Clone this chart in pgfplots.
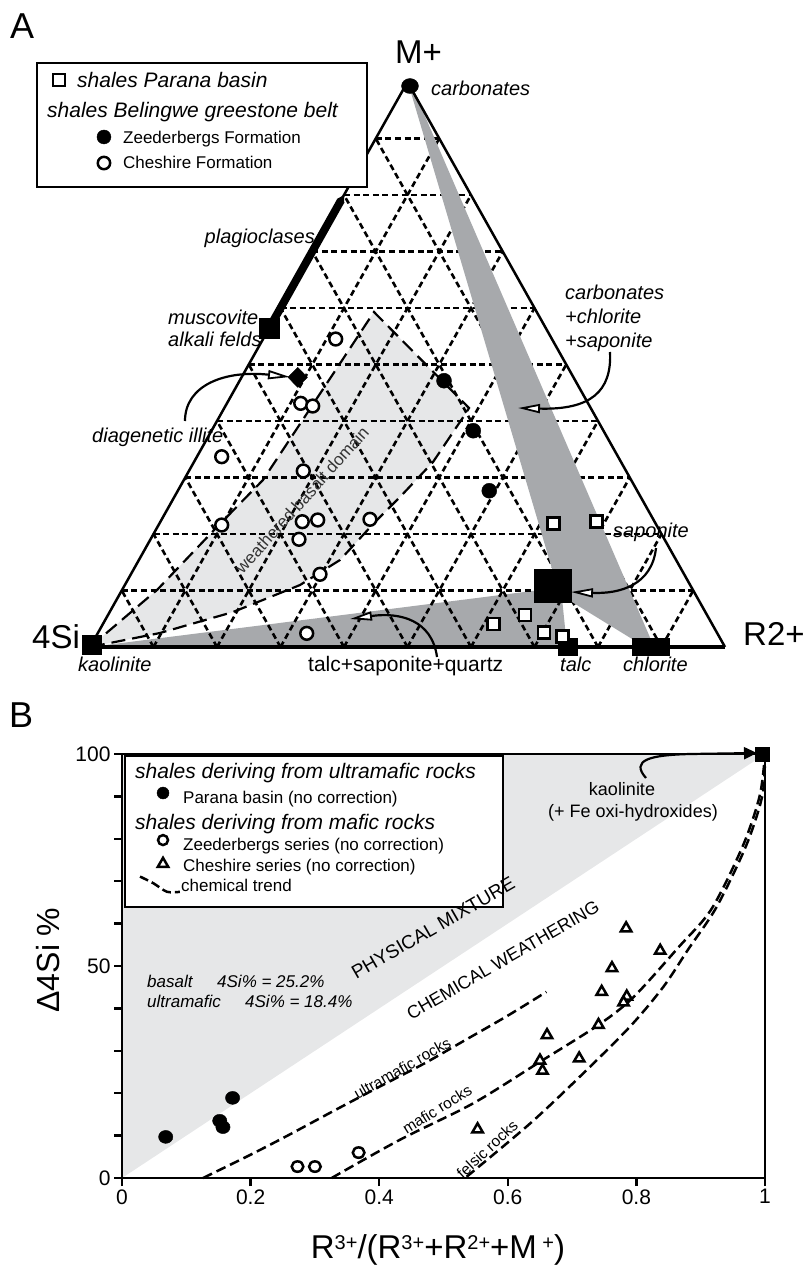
\documentclass[border=0pt]{standalone}
\usepackage{fontspec}
\setmainfont{Liberation Sans}
\usepackage{pgfplots}
\pgfplotsset{compat=1.18}
\usetikzlibrary{arrows.meta}
\definecolor{lgray}{HTML}{E6E7E8}
\definecolor{dgray}{HTML}{A7A9AC}
\newcommand\fs[1]{\fontsize{#1}{#1}\selectfont}
\newcommand\sups[1]{\raisebox{9pt}{\fs{20}#1}}
\tikzset{
  tgrid/.style={line width=2.6pt, dash pattern=on 6pt off 3.6pt, black},
  openarrow/.style={line width=2.2pt, -{Triangle[fill=white, length=22pt, width=9pt, line width=1.8pt]}},
  trend/.style={line width=2.5pt, dash pattern=on 10pt off 5pt, black, smooth},
}
\begin{document}
\begin{tikzpicture}
\path[use as bounding box] (0pt,0pt) rectangle (805pt,-1266pt);

%================ PANEL A (ternary, X = R2+ + M+/2, Y = M+) ================
\begin{axis}[at={(90pt,-647pt)}, anchor=south west, scale only axis,
  width=635pt, height=565pt, xmin=0, xmax=1, ymin=0, ymax=1,
  hide axis, clip=false]
% weathered basalt domain
\addplot[fill=lgray, draw=none] coordinates {(0,0) (0.1055,0.1009) (0.2000,0.2124) (0.2724,0.2956) (0.4472,0.5929) (0.5969,0.4230) (0.5921,0.4142) (0.5402,0.3274) (0.4882,0.2655) (0.4488,0.2212) (0.3937,0.1540) (0.3307,0.1097) (0.2252,0.0619) (0.1102,0.0248)} -- cycle;
% talc+saponite+quartz field
\addplot[fill=dgray, draw=none] coordinates {(0,0) (0.7087,0.1009) (0.7433,0.0867) (0.7512,0)} -- cycle;
% ternary grid
\draw[tgrid] (0.05,0.1) -- (0.95,0.1);
\draw[tgrid] (0.10,0.2) -- (0.90,0.2);
\draw[tgrid] (0.15,0.3) -- (0.85,0.3);
\draw[tgrid] (0.20,0.4) -- (0.80,0.4);
\draw[tgrid] (0.25,0.5) -- (0.75,0.5);
\draw[tgrid] (0.30,0.6) -- (0.70,0.6);
\draw[tgrid] (0.35,0.7) -- (0.65,0.7);
\draw[tgrid] (0.40,0.8) -- (0.60,0.8);
\draw[tgrid] (0.45,0.9) -- (0.55,0.9);
\draw[tgrid] (0.1,0) -- (0.55,0.9);
\draw[tgrid] (0.2,0) -- (0.60,0.8);
\draw[tgrid] (0.3,0) -- (0.65,0.7);
\draw[tgrid] (0.4,0) -- (0.70,0.6);
\draw[tgrid] (0.5,0) -- (0.75,0.5);
\draw[tgrid] (0.6,0) -- (0.80,0.4);
\draw[tgrid] (0.7,0) -- (0.85,0.3);
\draw[tgrid] (0.8,0) -- (0.90,0.2);
\draw[tgrid] (0.9,0) -- (0.95,0.1);
\draw[tgrid] (0.9,0) -- (0.45,0.9);
\draw[tgrid] (0.8,0) -- (0.40,0.8);
\draw[tgrid] (0.7,0) -- (0.35,0.7);
\draw[tgrid] (0.6,0) -- (0.30,0.6);
\draw[tgrid] (0.5,0) -- (0.25,0.5);
\draw[tgrid] (0.4,0) -- (0.20,0.4);
\draw[tgrid] (0.3,0) -- (0.15,0.3);
\draw[tgrid] (0.2,0) -- (0.10,0.2);
\draw[tgrid] (0.1,0) -- (0.05,0.1);
% domain outline
\addplot[draw=black, line width=2.2pt, dash pattern=on 14pt off 7pt] coordinates {(0,0) (0.1055,0.1009) (0.2000,0.2124) (0.2724,0.2956) (0.4472,0.5929) (0.5969,0.4230) (0.5921,0.4142) (0.5402,0.3274) (0.4882,0.2655) (0.4488,0.2212) (0.3937,0.1540) (0.3307,0.1097) (0.2252,0.0619) (0.1102,0.0248)} -- cycle;
% carbonates-chlorite-saponite wedge
\addplot[fill=dgray, draw=none] coordinates {(0.5024,0.9929) (0.7291,0.1327) (0.7591,0.0796) (0.8614,0.0088) (0.8850,0.0088) (0.5071,0.9929)} -- cycle;
% triangle frame
\draw[line width=2.5pt, line join=miter] (1,0) -- (0.5,1) -- (0,0);
\draw[line width=3.2pt] (0,0) -- (1,0);
% plagioclases
\draw[line width=8pt, -{Triangle[length=7pt,width=8pt]}] (0.2826,0.5651) -- (0.400,0.800);
% legend box
\draw[line width=2.5pt, fill=white] (-0.0835,1.0336) rectangle (0.4362,0.8142);
\addplot[only marks, mark=square*, mark size=6pt, mark options={fill=white, draw=black, line width=2.5pt}] coordinates {(-0.0488,1.0035)};
\addplot[only marks, mark=*, mark size=7pt, mark options={fill=black, draw=black}] coordinates {(0.0220,0.9027)};
\addplot[only marks, mark=*, mark size=6.2pt, mark options={fill=white, draw=black, line width=2.5pt}] coordinates {(0.0220,0.8566)};
% mineral end-members
\addplot[only marks, mark=square*, mark size=9.5pt, mark options={fill=black, draw=black}] coordinates {(0.003,0.004)};
\addplot[only marks, mark=square*, mark size=10pt, mark options={fill=black, draw=black}] coordinates {(0.2824,0.5651)};
\addplot[only marks, mark=square*, mark size=8.5pt, mark options={fill=black, draw=black, xscale=1.12}] coordinates {(0.7528,0.0)};
\addplot[only marks, mark=square*, mark size=8.5pt, mark options={fill=black, draw=black, xscale=2.18}] coordinates {(0.8835,0.0)};
\addplot[only marks, mark=square*, mark size=16.5pt, mark options={fill=black, draw=black, xscale=1.12}] coordinates {(0.7291,0.1083)};
\addplot[only marks, mark=*, mark size=7.5pt, mark options={fill=black, draw=black, xscale=1.13}] coordinates {(0.5039,0.9929)};
\addplot[only marks, mark=diamond*, mark size=10pt, mark options={fill=black, draw=black, xscale=1.3}] coordinates {(0.3271,0.4773)};
% shales Parana basin
\addplot[only marks, mark=square*, mark size=6pt, mark options={fill=white, draw=black, line width=2.5pt}] coordinates {
(0.7296,0.2189) (0.7980,0.2218) (0.6351,0.0407) (0.6850,0.0566) (0.7150,0.0253) (0.7438,0.0182)};
% Zeederbergs Formation
\addplot[only marks, mark=*, mark size=7.5pt, mark options={fill=black, draw=black}] coordinates {
(0.5575,0.4713) (0.6036,0.3828) (0.6288,0.2766)};
% Cheshire Formation
\addplot[only marks, mark=*, mark size=6.4pt, mark options={fill=white, draw=black, line width=2.5pt}] coordinates {
(0.3869,0.5451) (0.3318,0.4313) (0.3507,0.4265) (0.2074,0.3368) (0.3359,0.3115) (0.2074,0.2159)
(0.3343,0.2218) (0.3586,0.2248) (0.3291,0.1906) (0.4409,0.2260) (0.3622,0.1287) (0.3413,0.0242)};
\end{axis}

%================ PANEL B ================
\begin{axis}[at={(122pt,-1178pt)}, anchor=south west, scale only axis,
  width=643pt, height=424pt, xmin=0, xmax=1, ymin=0, ymax=100,
  axis line style={line width=2.5pt}, axis on top,
  xtick={0,0.2,0.4,0.6,0.8,1}, xticklabels={0,0.2,0.4,0.6,0.8,1},
  ytick={0,50,100}, yticklabels={0,50,100},
  minor ytick={10,20,30,40,60,70,80,90},
  xtick pos=bottom, ytick pos=left, tick align=outside,
  major tick length=8pt, minor tick length=8pt,
  tick style={line width=2.5pt, black},
  tick label style={font=\fs{21}},
  clip=false]
\addplot[fill=lgray, draw=none] coordinates {(0,0) (1,100) (0,100)} -- cycle;
% chemical trends
\addplot[trend] coordinates {(0.126,0) (0.20,5.5) (0.26,10.2) (0.33,15.9) (0.40,21.5) (0.47,27.0) (0.53,32.2) (0.60,38.3) (0.66,43.9)};
\addplot[trend] coordinates {(0.326,0) (0.432,9.0) (0.546,17.6) (0.650,27.4) (0.741,36.1) (0.795,42.6) (0.866,54.5) (0.917,63.5) (0.966,78.5) (0.992,90.3) (1,100)};
\addplot[trend] coordinates {(0.536,0.3) (0.635,12.9) (0.712,23.9) (0.790,35.7) (0.842,45.1) (0.880,53.8) (0.925,64.0) (0.971,78.5) (0.996,90.3) (1,100)};
% Parana basin
\addplot[only marks, mark=*, mark size=6.5pt, mark options={fill=black, draw=black, xscale=1.1}] coordinates {
(0.068,9.7) (0.152,13.5) (0.157,12.0) (0.172,18.9)};
% Zeederbergs series
\addplot[only marks, mark=*, mark size=5.2pt, mark options={fill=white, draw=black, line width=2.5pt, xscale=1.12}] coordinates {
(0.273,2.7) (0.300,2.7) (0.368,6.0)};
% Cheshire series
\addplot[only marks, mark=triangle*, mark size=6pt, mark options={fill=white, draw=black, line width=2.5pt}] coordinates {
(0.837,53.6) (0.784,58.9) (0.762,49.5) (0.746,43.9) (0.785,42.8) (0.780,41.4) (0.741,36.1)
(0.661,33.7) (0.711,28.2) (0.650,27.7) (0.654,25.3) (0.553,11.5)};
% kaolinite
\addplot[only marks, mark=square*, mark size=7pt, mark options={fill=black, draw=black}] coordinates {(0.996,100)};
% legend
\draw[line width=2.5pt, fill=white] (0.0047,99.53) rectangle (0.5925,63.92);
\addplot[only marks, mark=*, mark size=6pt, mark options={fill=black, draw=black}] coordinates {(0.0638,90.8)};
\addplot[only marks, mark=*, mark size=5pt, mark options={fill=white, draw=black, line width=2.5pt}] coordinates {(0.0638,79.7)};
\addplot[only marks, mark=triangle*, mark size=6pt, mark options={fill=white, draw=black, line width=2.5pt}] coordinates {(0.0638,74.1)};
\addplot[line width=2.5pt, dash pattern=on 9pt off 4pt, smooth] coordinates {(0.028,71.1) (0.049,69.5) (0.070,67.5) (0.090,67.5)};
\end{axis}

%================ annotations (pixel coordinates) ================
\begin{scope}[x=1pt,y=-1pt]
\node[anchor=base west, inner sep=0] at (10,38) {\fs{36}A};
\node[anchor=base west, inner sep=0] at (9,727) {\fs{36}B};
\node[anchor=base west, inner sep=0] at (395,63) {\fs{33}M+};
\node[anchor=base west, inner sep=0] at (32,648) {\fs{33}4Si};
\node[anchor=base west, inner sep=0] at (743,645) {\fs{33}R2+};
% A legend text
\node[anchor=base west, inner sep=0] at (77,87.5) {\fs{21}\itshape shales Parana basin};
\node[anchor=base west, inner sep=0] at (47,117.5) {\fs{21}\itshape shales Belingwe greestone belt};
\node[anchor=base west, inner sep=0] at (123,143) {\fs{17}Zeederbergs Formation};
\node[anchor=base west, inner sep=0] at (123,168.5) {\fs{17}Cheshire Formation};
% A annotations
\node[anchor=base west, inner sep=0] at (431,95) {\fs{20}\itshape carbonates};
\node[anchor=base west, inner sep=0] at (565,299.5) {\fs{20}\itshape carbonates};
\node[anchor=base west, inner sep=0] at (565,323) {\fs{20}\itshape +chlorite};
\node[anchor=base west, inner sep=0] at (565,347) {\fs{20}\itshape +saponite};
\node[anchor=base east, inner sep=0] at (315,243) {\fs{20}\itshape plagioclases};
\node[anchor=base west, inner sep=0] at (168,324) {\fs{20}\itshape muscovite};
\node[anchor=base west, inner sep=0] at (168,346) {\fs{20}\itshape alkali felds};
\node[anchor=base west, inner sep=0] at (92,442.5) {\fs{20}\itshape diagenetic illite};
\node[anchor=base west, inner sep=0] at (78,671) {\fs{20}\itshape kaolinite};
\node[anchor=base west, inner sep=0] at (308,671) {\fs{21}talc+saponite+quartz};
\node[anchor=base west, inner sep=0] at (560,671) {\fs{20}\itshape talc};
\node[anchor=base west, inner sep=0] at (623,671) {\fs{20}\itshape chlorite};
\node[anchor=base west, inner sep=0] at (613,537.5) {\fs{20}\itshape saponite};
\node[rotate=48, text=black!80] at (302,500) {\fs{17}weathered basalt domain};
\draw[openarrow] (185,421) .. controls (185,385) and (225,370) .. (290,377);
\draw[openarrow] (610,352) .. controls (612,392) and (590,410) .. (518,408);
\draw[openarrow] (656,548) .. controls (652,585) and (620,594) .. (571,592);
\draw[openarrow] (437,657) .. controls (432,620) and (400,612) .. (350,619);
% B legend text
\node[anchor=base west, inner sep=0] at (135,778) {\fs{21}\itshape shales deriving from ultramafic rocks};
\node[anchor=base west, inner sep=0] at (183,803.5) {\fs{17}Parana basin (no correction)};
\node[anchor=base west, inner sep=0] at (135,829.5) {\fs{21}\itshape shales deriving from mafic rocks};
\node[anchor=base west, inner sep=0] at (183,850) {\fs{17}Zeederbergs series (no correction)};
\node[anchor=base west, inner sep=0] at (183,871) {\fs{17}Cheshire series (no correction)};
\node[anchor=base west, inner sep=0] at (181,891.5) {\fs{17}chemical trend};
% B annotations
\node[anchor=base west, inner sep=0] at (147,987) {\fs{17}\itshape basalt};
\node[anchor=base west, inner sep=0] at (217,987) {\fs{17}\itshape 4Si\% = 25.2\%};
\node[anchor=base west, inner sep=0] at (147,1007) {\fs{17}\itshape ultramafic};
\node[anchor=base west, inner sep=0] at (245,1007) {\fs{17}\itshape 4Si\% = 18.4\%};
\node[rotate=30] at (433,928) {\fs{19}PHYSICAL MIXTURE};
\node[rotate=30] at (503,960) {\fs{18}CHEMICAL WEATHERING};
\node[anchor=base, rotate=29.5, inner sep=0] at (405,1073) {\fs{15.5}ultramafic rocks};
\node[anchor=base, rotate=32, inner sep=0] at (440,1114) {\fs{15.5}mafic rocks};
\node[anchor=base, rotate=43, inner sep=0] at (491,1153) {\fs{15.5}felsic rocks};
\node[anchor=base, inner sep=0] at (622,795) {\fs{18}kaolinite};
\node[anchor=base, inner sep=0] at (633,817) {\fs{18}(+ Fe oxi-hydroxides)};
\draw[line width=2.2pt, -{Triangle[length=13pt,width=12pt]}] (646,778) .. controls (630,760) and (650,755) .. (690,754) -- (757,753);
\node[anchor=base, inner sep=0] at (438,1258) {\fs{33}R\sups{3+}/(R\sups{3+}+R\sups{2+}+M\,\sups{+})};
\node[anchor=base, rotate=90, inner sep=0] at (59,960) {\fs{32}Δ4Si \%};
\end{scope}
\end{tikzpicture}
\end{document}
